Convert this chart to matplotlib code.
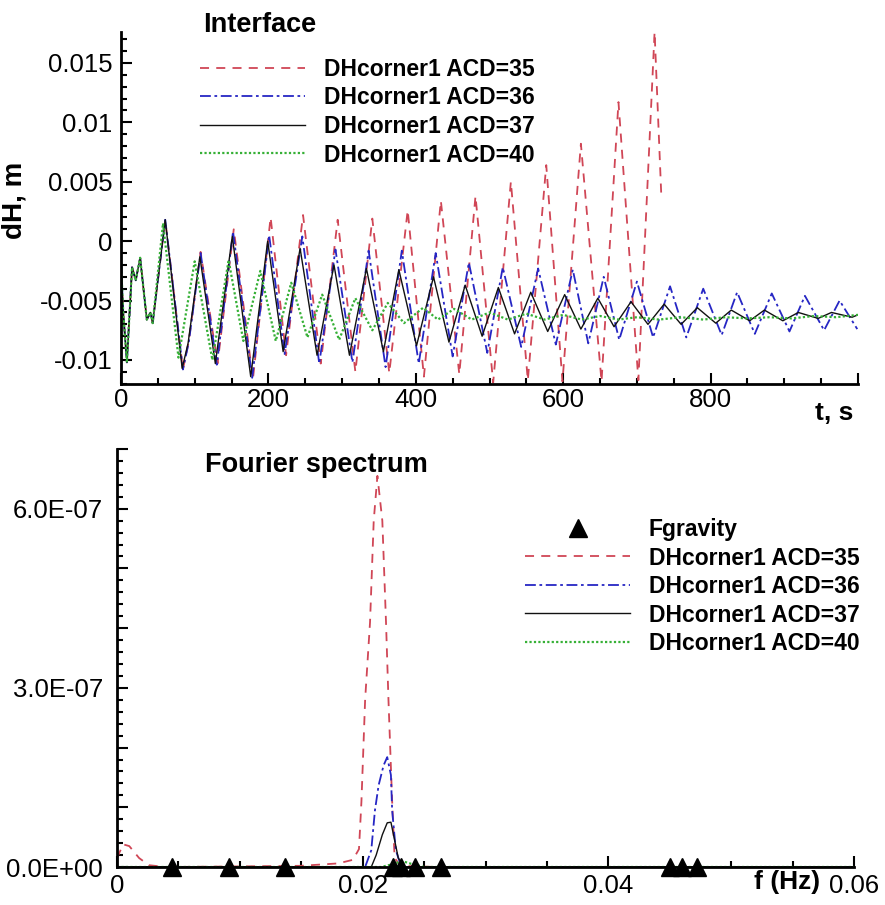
import matplotlib
matplotlib.use("Agg")
import matplotlib.pyplot as plt
from matplotlib.ticker import MultipleLocator, FuncFormatter
import numpy as np

plt.rcParams['font.family'] = ['Liberation Sans', 'DejaVu Sans']
plt.rcParams['axes.unicode_minus'] = False

# ---- top panel: interface elevation dH (mm), read at the extrema ----
t_start = [0, 3, 8, 15, 20, 26, 35, 40, 43]
dh_start = [-1.8, -6.0, -10.2, -2.2, -3.3, -1.4, -6.6, -6.0, -6.9]

t_35 = [60, 84, 92, 108, 131, 153, 179, 203, 224, 247, 271, 294, 318, 341, 364, 389, 411,
        434, 459, 481, 505, 529, 552, 577, 599, 624, 652, 675, 702, 724, 733]
dh_35 = [1.8, -10.8, -8.4, -0.9, -10.3, 1.0, -11.6, 2.0, -9.6, 2.2, -10.3, 1.8, -11.0, 1.9,
         -11.1, 2.6, -11.4, 3.4, -11.2, 3.8, -11.9, 5.0, -11.7, 6.4, -11.8, 8.2, -11.8, 11.7,
         -11.7, 17.6, 4.0]

t_36 = [60, 84, 92, 108, 130, 152, 178, 201, 222, 246, 269, 291, 314, 336, 359, 381, 404,
        427, 450, 472, 497, 518, 543, 566, 590, 613, 634, 655, 676, 700, 722, 745, 767, 790,
        815, 836, 860, 883, 907, 928, 954, 975, 999]
dh_36 = [1.8, -10.8, -8.5, -1.0, -10.4, 0.8, -11.5, 0.5, -9.5, 0.4, -10.3, -0.7, -10.2, -0.8,
         -10.6, -0.8, -10.3, -1.0, -9.7, -1.8, -9.4, -2.2, -8.9, -2.3, -8.7, -2.4, -8.6, -3.0,
         -8.3, -3.4, -8.1, -3.8, -8.1, -4.0, -7.9, -4.3, -7.8, -4.4, -7.6, -4.6, -7.5, -5.0,
         -7.4]

t_37 = [60, 83, 91, 107, 128, 151, 176, 199, 220, 243, 266, 289, 310, 333, 356, 377, 401,
        424, 445, 467, 490, 512, 534, 556, 579, 602, 624, 647, 669, 692, 715, 737, 760, 782,
        807, 828, 853, 873, 898, 919, 946, 964, 992, 1000]
dh_37 = [1.8, -10.7, -8.6, -1.3, -10.3, 0.4, -11.4, 0.0, -9.3, -0.6, -9.6, -2.0, -9.6, -2.3,
         -9.3, -2.4, -8.8, -3.0, -8.5, -3.7, -8.0, -3.9, -7.8, -4.3, -7.6, -4.5, -7.4, -4.8,
         -7.2, -5.1, -7.0, -5.3, -7.0, -5.6, -6.9, -5.8, -6.7, -5.8, -6.7, -6.0, -6.5, -6.0,
         -6.4, -6.2]

t_40 = [57, 78, 100, 124, 146, 166, 189, 210, 231, 253, 273, 296, 318, 341, 362, 384, 410,
        430, 452, 476, 500, 525, 550, 575, 600, 625, 650, 675, 700, 730, 760, 790, 820, 850,
        880, 910, 940, 970, 1000]
dh_40 = [1.5, -9.8, -1.7, -10.0, -1.6, -8.4, -2.5, -8.4, -3.5, -8.1, -4.5, -8.3, -4.8, -7.5,
         -5.2, -6.9, -5.6, -6.6, -5.7, -6.6, -6.0, -6.6, -6.1, -6.6, -6.2, -6.6, -6.3, -6.6,
         -6.4, -6.6, -6.4, -6.6, -6.4, -6.5, -6.4, -6.5, -6.3, -6.4, -6.2]

# ---- bottom panel: Fourier spectrum (amplitude in 1e-7) ----
f_35 = [0, 0.0005, 0.001, 0.0018, 0.0026, 0.004, 0.01, 0.015, 0.018, 0.0192, 0.0197, 0.0199,
        0.0202, 0.0206, 0.0209, 0.0212, 0.0216, 0.0219, 0.0221, 0.0224, 0.0226, 0.0231, 0.026, 0.06]
a_35 = [0.15, 0.38, 0.35, 0.15, 0.03, 0.0, 0.01, 0.02, 0.06, 0.12, 0.3, 1.1,
        2.8, 4.1, 5.8, 6.55, 5.8, 4.1, 2.8, 1.1, 0.15, 0.02, 0.0, 0.0]
f_36 = [0, 0.0202, 0.0207, 0.021, 0.0213, 0.0217, 0.022, 0.0223, 0.0224, 0.0227, 0.0231, 0.0235, 0.06]
a_36 = [0, 0, 0.28, 0.95, 1.37, 1.7, 1.84, 1.54, 0.95, 0.28, 0.03, 0, 0]
f_37 = [0, 0.0207, 0.0211, 0.0216, 0.022, 0.0223, 0.0226, 0.0229, 0.0234, 0.06]
a_37 = [0, 0, 0.2, 0.54, 0.74, 0.75, 0.45, 0.15, 0, 0]
f_40 = [0, 0.0215, 0.0225, 0.0232, 0.024, 0.025, 0.06]
a_40 = [0, 0, 0.05, 0.1, 0.05, 0, 0]
f_gravity = [0.0045, 0.0091, 0.0137, 0.02245, 0.0231, 0.0243, 0.0264, 0.0450, 0.0460, 0.0472]

labels = ["DHcorner1 ACD=35", "DHcorner1 ACD=36", "DHcorner1 ACD=37", "DHcorner1 ACD=40"]
styles = [dict(color='#d04656', ls=(0, (5, 4)), lw=1.3),
          dict(color='#2626c4', ls=(0, (6, 2, 1.5, 2)), lw=1.3),
          dict(color='#111111', ls='-', lw=1.0),
          dict(color='#36b036', ls=(0, (1, 1)), lw=1.6)]

W, H = 885, 905
fig = plt.figure(figsize=(W / 100, H / 100), dpi=100)


def frame(x0, y0, x1, y1):
    return [x0 / W, 1 - y1 / H, (x1 - x0) / W, (y1 - y0) / H]


def style_axes(ax):
    for s in ('top', 'right'):
        ax.spines[s].set_visible(False)
    for s in ('left', 'bottom'):
        ax.spines[s].set_linewidth(2)
    ax.tick_params(which='both', direction='in', labelsize=18.5, width=1.5)
    ax.tick_params(which='major', length=8)
    ax.tick_params(which='minor', length=4)


def fmt_g(v, pos):
    v = round(v, 8)
    return '0' if v == 0 else '%g' % v


leg_kw = dict(frameon=False, prop={'weight': 'bold', 'size': 16.5}, handlelength=4.6,
              handletextpad=0.8, labelspacing=0.24, borderpad=0, borderaxespad=0,
              bbox_transform=fig.transFigure, loc='upper left')

# top panel
ax1 = fig.add_axes(frame(121, 32, 858, 384))
style_axes(ax1)
series_t = [(t_35, dh_35), (t_36, dh_36), (t_37, dh_37), (t_40, dh_40)]
for (tt, dd), lab, st in zip(series_t, labels, styles):
    t = np.array(t_start + tt)
    d = np.array(dh_start + dd) * 1e-3
    ax1.plot(t, d, label=lab, solid_joinstyle='round', **st)
ax1.set_xlim(0, 1000)
ax1.set_ylim(-0.01202, 0.0176)
ax1.xaxis.set_major_locator(MultipleLocator(200))
ax1.xaxis.set_minor_locator(MultipleLocator(50))
ax1.yaxis.set_major_locator(MultipleLocator(0.005))
ax1.yaxis.set_minor_locator(MultipleLocator(0.001))
ax1.xaxis.set_major_formatter(FuncFormatter(lambda v, p: '' if v > 900 else fmt_g(v, p)))
ax1.yaxis.set_major_formatter(FuncFormatter(fmt_g))
ax1.tick_params(axis='y', pad=6)
ax1.tick_params(axis='x', pad=3)
ax1.legend(bbox_to_anchor=(200 / W, 1 - 58 / H), **leg_kw)
fig.text(203 / W, 1 - 25 / H, "Interface", fontsize=19.5, fontweight='bold', va='center', ha='left')
fig.text(14 / W, 1 - 200 / H, "dH, m", fontsize=20, fontweight='bold', rotation=90,
         va='center', ha='center')
fig.text(834 / W, 1 - 413 / H, "t, s", fontsize=19, fontweight='bold', va='center', ha='center')

# bottom panel
ax2 = fig.add_axes(frame(117, 449, 854, 867))
style_axes(ax2)
ax2.plot(f_gravity, np.zeros(len(f_gravity)), ls='none', marker='^', ms=13, color='black',
         label='Fgravity', clip_on=False, zorder=5)
series_f = [(f_35, a_35), (f_36, a_36), (f_37, a_37), (f_40, a_40)]
for (ff, aa), lab, st in zip(series_f, labels, styles):
    ax2.plot(ff, np.array(aa) * 1e-7, label=lab, **st)
ax2.set_xlim(0, 0.06)
ax2.set_ylim(0, 7.0e-7)
ax2.xaxis.set_major_locator(MultipleLocator(0.02))
ax2.xaxis.set_minor_locator(MultipleLocator(0.005))
ax2.yaxis.set_major_locator(MultipleLocator(1e-7))
ax2.yaxis.set_minor_locator(MultipleLocator(2e-8))
ax2.xaxis.set_major_formatter(FuncFormatter(fmt_g))
ax2.yaxis.set_major_formatter(FuncFormatter(
    lambda v, p: ('%.1E' % v) if abs(round(v / 1e-7) % 3) == 0 else ''))
ax2.tick_params(axis='y', pad=10)
ax2.tick_params(axis='x', pad=5)
ax2.legend(bbox_to_anchor=(525 / W, 1 - 518 / H), **leg_kw)
fig.text(205 / W, 1 - 465 / H, "Fourier spectrum", fontsize=19.5, fontweight='bold',
         va='center', ha='left')
fig.text(787 / W, 1 - 882 / H, "f (Hz)", fontsize=19, fontweight='bold', va='center', ha='center')

fig.savefig("out.png", dpi=100)
